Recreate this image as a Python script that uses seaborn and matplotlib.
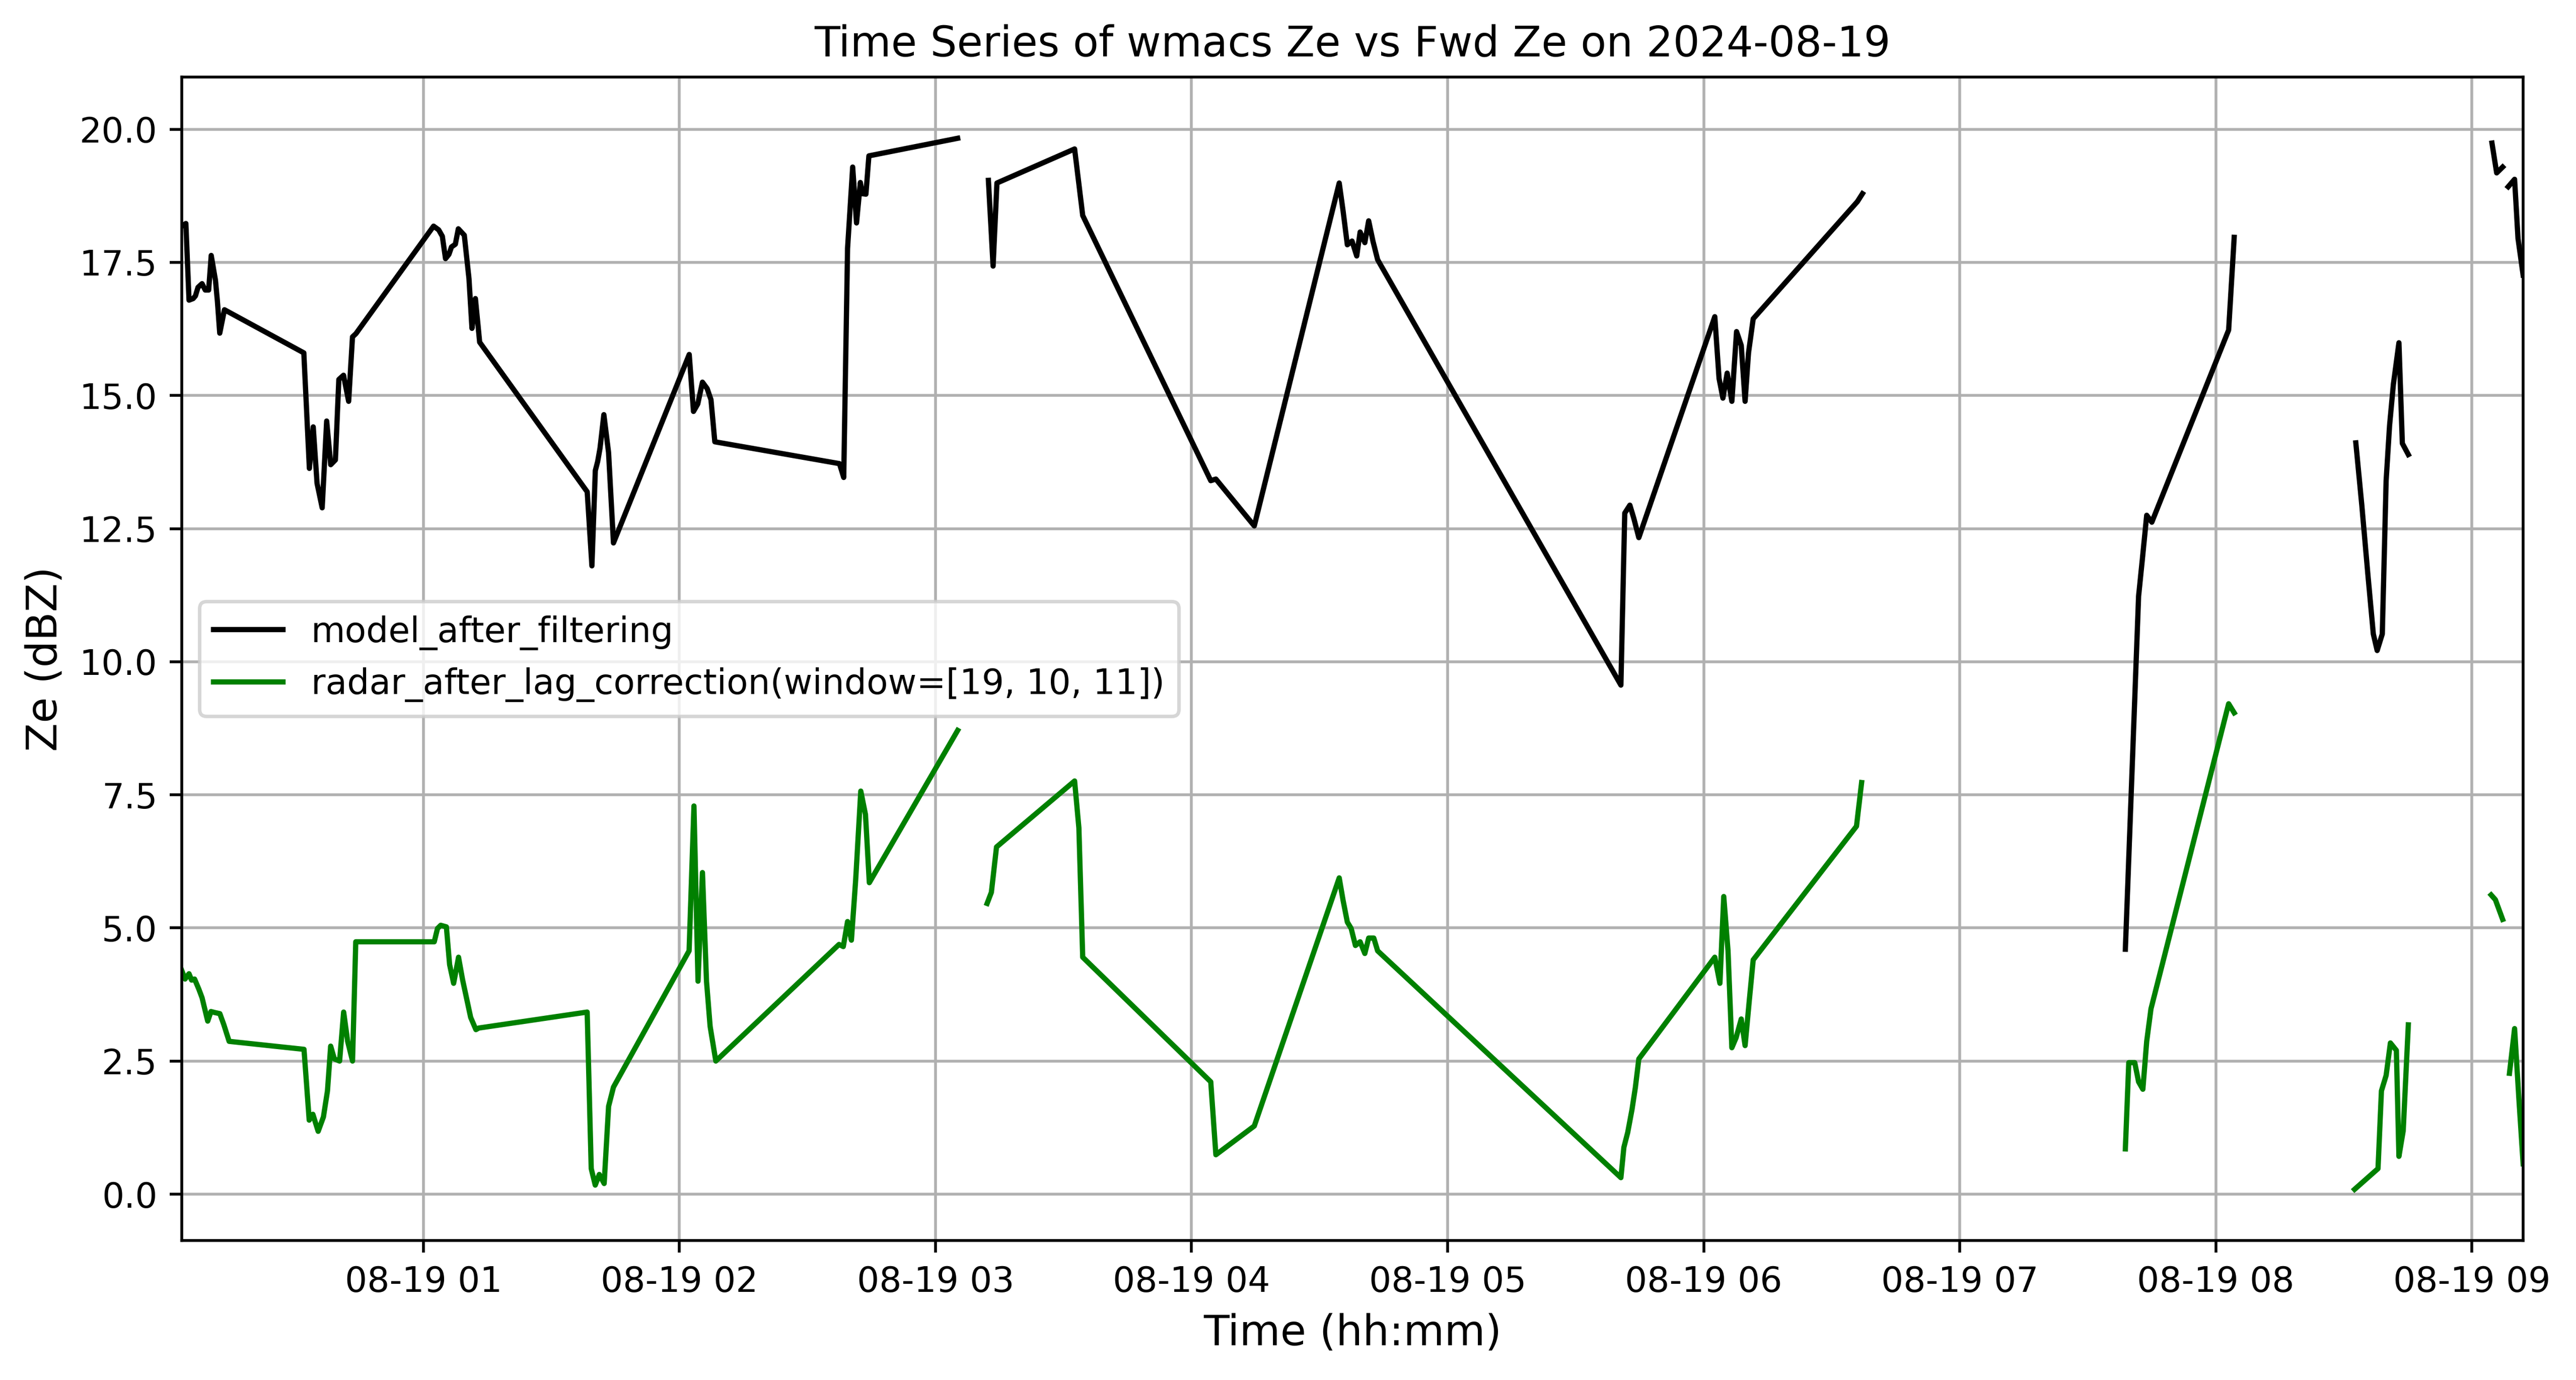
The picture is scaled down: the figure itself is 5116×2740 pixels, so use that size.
import numpy as np
import pandas as pd
import matplotlib
matplotlib.use("Agg")
import matplotlib.pyplot as plt
import matplotlib.dates as mdates
import seaborn as sns

DATE = "2024-08-19"
TITLE = "Time Series of wmacs Ze vs Fwd Ze on 2024-08-19"
MODEL_LABEL = "model_after_filtering"
RADAR_LABEL = "radar_after_lag_correction(window=[19, 10, 11])"

# ---- model (black) : minutes after 00:00 and Ze (dBZ) ----
model_minutes = [
    3.4, 4.36, 5.1, 6.07, 6.6, 7.2, 8.15, 8.9, 9.7, 10.3, 11.3, 11.75, 12.3, 13.4,
    32.0, 33.3, 34.2, 35.1, 36.3, 37.35, 38.3, 39.4, 40.2, 41.3, 42.5, 43.4, 44.2,
    62.4, 63.6, 64.45, 65.2, 66.0, 66.6, 67.5, 68.2, 69.6, 70.7, 71.4, 72.2, 73.2,
    98.4, 99.5, 100.3, 100.85, 101.4, 102.3, 103.4, 104.55,
    122.3, 123.3, 124.3, 125.4, 126.5, 127.4, 128.3,
    157.5, 158.5, 159.4, 160.6, 161.5, 162.4, 162.9, 163.7, 164.4, 185.2,
    192.4, 193.5, 194.4, 212.6, 214.5, 244.5, 245.7, 254.7,
    274.6, 275.5, 276.5, 277.6, 278.7, 279.5, 280.6, 281.5, 282.5, 283.6,
    340.6, 341.5, 342.7, 343.6, 344.8,
    362.6, 363.6, 364.5, 365.5, 366.6, 367.7, 368.8, 369.7, 370.5, 371.6, 396.0, 397.2,
    458.8, 461.9, 462.8, 463.8, 465.0, 483.0, 484.3,
    512.8, 514.2, 515.6, 516.9, 517.8, 519.0, 519.9, 520.7, 521.6, 522.9, 523.7, 525.1,
    544.7, 545.8, 547.2,
    548.5, 550.0, 550.8, 552.0,
]
model_ze = [
    18.18, 18.23, 16.79, 16.82, 16.87, 17.03, 17.10, 16.98, 16.98, 17.63, 17.16, 16.77, 16.17, 16.61,
    15.80, 13.63, 14.41, 13.35, 12.89, 14.52, 13.70, 13.79, 15.30, 15.38, 14.89, 16.10, 16.16,
    18.18, 18.11, 17.99, 17.57, 17.65, 17.79, 17.84, 18.13, 18.01, 17.19, 16.26, 16.82, 16.00,
    13.19, 11.80, 13.59, 13.76, 14.01, 14.64, 13.93, 12.23,
    15.77, 14.70, 14.84, 15.25, 15.13, 14.92, 14.13,
    13.72, 13.46, 17.76, 19.29, 18.24, 19.00, 18.79, 18.78, 19.50, 19.83,
    19.04, 17.43, 18.99, 19.63, 18.38, 13.40, 13.43, 12.55,
    18.99, 18.47, 17.83, 17.90, 17.62, 18.07, 17.87, 18.28, 17.90, 17.55,
    9.56, 12.79, 12.94, 12.70, 12.33,
    16.48, 15.32, 14.95, 15.42, 14.89, 16.20, 15.94, 14.89, 15.80, 16.44, 18.64, 18.79,
    4.60, 11.23, 11.94, 12.75, 12.62, 16.23, 17.97,
    14.11, 12.94, 11.66, 10.52, 10.21, 10.52, 13.40, 14.43, 15.21, 15.99, 14.10, 13.89,
    19.74, 19.18, 19.29,
    18.92, 19.06, 17.95, 17.26,
]
# first minute of each continuous piece (pieces are separated by missing data)
model_piece_starts = [3.4, 192.4, 458.8, 512.8, 544.7, 548.5]

# ---- radar (green) ----
radar_minutes = [
    3.4, 4.17, 5.1, 5.7, 6.4, 7.4, 8.15, 9.48, 10.24, 11.18, 12.32, 13.27, 14.5,
    32.04, 33.26, 34.12, 35.36, 36.59, 37.54, 38.29, 39.15, 40.38, 41.33, 42.27, 43.41, 44.17,
    62.56, 63.32, 64.08, 65.4, 66.16, 67.1, 68.25, 69.19, 71.09, 72.32, 72.99,
    98.39, 99.34, 100.28, 101.23, 102.37, 103.41, 104.55,
    122.27, 123.41, 124.36, 125.4, 126.35, 127.2, 128.53,
    157.4, 158.4, 159.4, 160.3, 161.3, 162.5, 163.6, 164.5, 185.2,
    192.1, 193.1, 194.3, 212.6, 213.6, 214.5, 244.5, 245.7, 254.7,
    274.6, 275.5, 276.5, 277.4, 278.4, 279.5, 280.6, 281.5, 282.7, 283.6,
    340.6, 341.3, 342.2, 343.2, 344.0, 344.8,
    362.6, 363.8, 364.7, 365.7, 366.6, 367.6, 368.8, 369.7, 370.7, 371.6, 395.8, 397.0,
    458.8, 459.6, 461.0, 461.9, 462.9, 463.8, 464.8, 483.0, 484.3,
    512.5, 518.0, 518.8, 519.9, 520.9, 522.3, 522.9, 523.9, 525.1,
    544.5, 545.5, 547.2,
    548.8, 550.0, 551.0, 552.0,
]
radar_ze = [
    4.20, 4.04, 4.14, 4.02, 4.04, 3.85, 3.69, 3.25, 3.43, 3.41, 3.39, 3.18, 2.87,
    2.72, 1.39, 1.50, 1.18, 1.45, 1.94, 2.78, 2.54, 2.50, 3.42, 2.87, 2.50, 4.74,
    4.74, 4.99, 5.05, 5.02, 4.31, 3.96, 4.45, 4.03, 3.32, 3.09, 3.12,
    3.42, 0.48, 0.17, 0.37, 0.20, 1.65, 2.01,
    4.57, 7.29, 4.00, 6.04, 4.00, 3.15, 2.50,
    4.69, 4.65, 5.12, 4.77, 5.90, 7.57, 7.13, 5.85, 8.71,
    5.46, 5.67, 6.52, 7.76, 6.88, 4.45, 2.11, 0.74, 1.28,
    5.94, 5.52, 5.11, 4.99, 4.67, 4.74, 4.52, 4.81, 4.81, 4.57,
    0.31, 0.88, 1.16, 1.59, 2.01, 2.54,
    4.45, 3.96, 5.59, 4.57, 2.75, 2.94, 3.29, 2.79, 3.65, 4.40, 6.91, 7.73,
    0.85, 2.47, 2.47, 2.11, 1.97, 2.87, 3.48, 9.21, 9.04,
    0.09, 0.48, 1.94, 2.23, 2.84, 2.70, 0.71, 1.19, 3.18,
    5.62, 5.53, 5.16,
    2.27, 3.11, 1.80, 0.57,
]
radar_piece_starts = [3.4, 192.1, 458.8, 512.5, 544.5, 548.8]

Y_LIMITS = (-0.87, 20.98)


def make_frame(minutes, ze, starts, label):
    minutes = np.asarray(minutes, dtype=float)
    times = pd.Timestamp(DATE) + pd.to_timedelta(minutes, unit="min")
    piece = np.searchsorted(np.asarray(starts), minutes, side="right") - 1
    return pd.DataFrame({"time": times, "ze": ze, "piece": piece, "series": label})


df = pd.concat(
    [
        make_frame(model_minutes, model_ze, model_piece_starts, MODEL_LABEL),
        make_frame(radar_minutes, radar_ze, radar_piece_starts, RADAR_LABEL),
    ],
    ignore_index=True,
)

W, H, DPI = 5116, 2740, 500
fig = plt.figure(figsize=(W / DPI, H / DPI), dpi=DPI)
ax = fig.add_axes([361 / W, 277 / H, 4650 / W, 2310 / H])

sns.lineplot(
    data=df, x="time", y="ze", hue="series", units="piece", estimator=None,
    palette={MODEL_LABEL: "black", RADAR_LABEL: "green"},
    linewidth=1.5, ax=ax,
)

ax.set_xlim(df["time"].min(), df["time"].max())
ax.set_ylim(*Y_LIMITS)
ax.xaxis.set_major_locator(mdates.HourLocator())
ax.xaxis.set_major_formatter(mdates.DateFormatter("%m-%d %H"))
ax.grid(True)
ax.set_xlabel("Time (hh:mm)", fontsize=12)
ax.set_ylabel("Ze (dBZ)", fontsize=12)
ax.set_title(TITLE, fontsize=12)
sns.move_legend(ax, "center left", title=None, fontsize=10)

fig.savefig("out.png", dpi=DPI)
